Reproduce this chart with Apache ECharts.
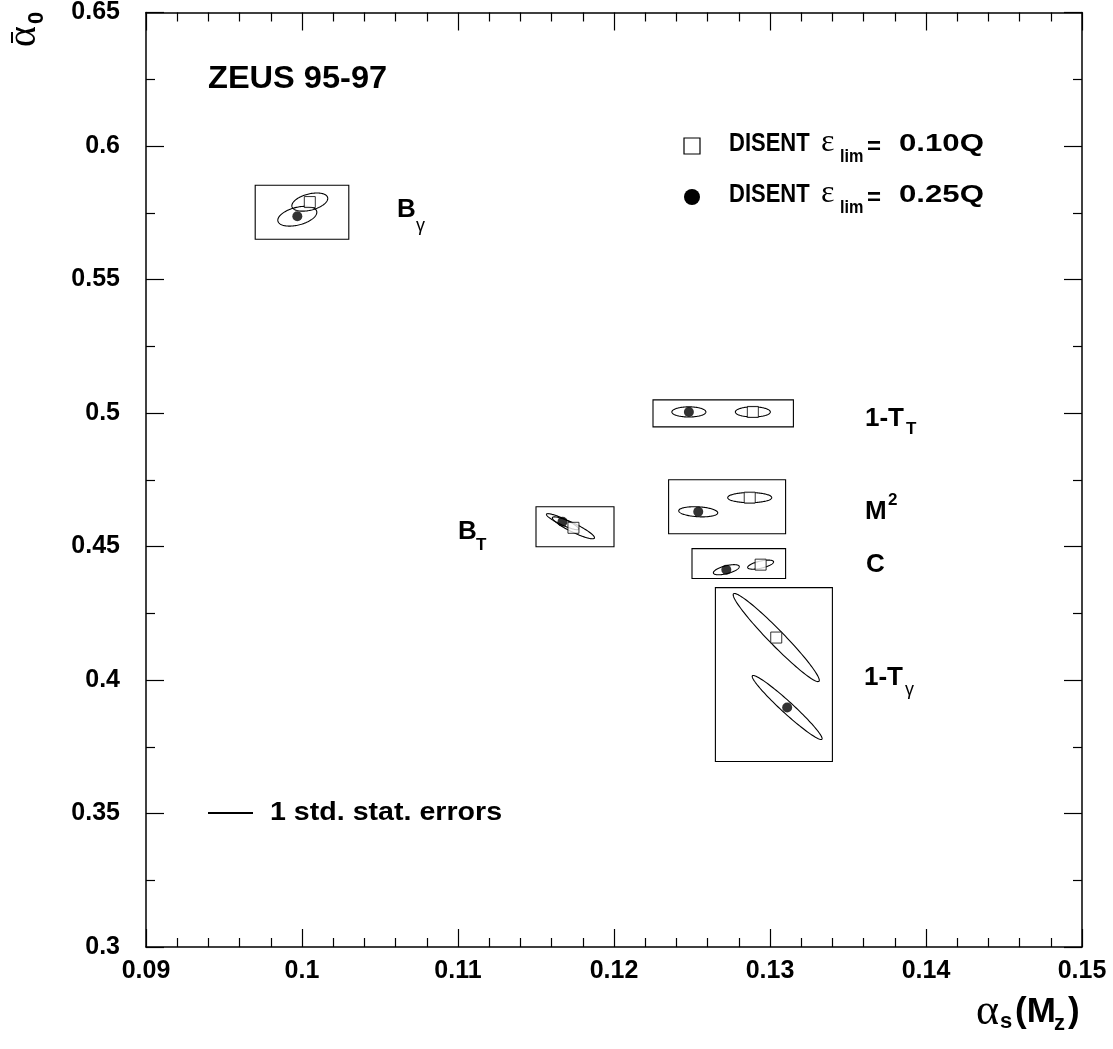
<!DOCTYPE html>
<html><head><meta charset="utf-8">
<script src="https://cdn.jsdelivr.net/npm/echarts@6/dist/echarts.min.js"></script>
<style>html,body{margin:0;padding:0;background:#fff}#c{width:1113px;height:1049px}</style>
</head><body><div id="c"></div>
<script>
// ---- data ----
const observables = ['Bγ', '1-T_T', 'M²', 'C', 'B_T', '1-Tγ'];
// DISENT eps_lim = 0.10Q (open squares)
const alphaS_010 = [0.1005, 0.1289, 0.1287, 0.1294, 0.1174, 0.1304];
const alpha0_010 = [0.5790, 0.5004, 0.4683, 0.4432, 0.4570, 0.4159];
const sigS_010   = [0.00115, 0.00112, 0.00141, 0.00083, 0.00135, 0.00276];
const sig0_010   = [0.0034, 0.0019, 0.0019, 0.0017, 0.0041, 0.0165];
const rho_010    = [0.4, 0.0, 0.0, 0.6, -0.9, -0.97];
// DISENT eps_lim = 0.25Q (filled circles)
const alphaS_025 = [0.0997, 0.1248, 0.1254, 0.1272, 0.1167, 0.1311];
const alpha0_025 = [0.5737, 0.5004, 0.4630, 0.4413, 0.4593, 0.3897];
const sigS_025   = [0.00125, 0.00109, 0.00125, 0.00083, 0.00103, 0.00224];
const sig0_025   = [0.0037, 0.0019, 0.0019, 0.0019, 0.0030, 0.0120];
const rho_025    = [0.4, 0.0, -0.2, 0.6, -0.9, -0.97];
// boxes around each observable
const boxSmin = [0.0970, 0.1225, 0.1235, 0.1250, 0.1150, 0.1265];
const boxSmax = [0.1030, 0.1315, 0.1310, 0.1310, 0.1200, 0.1340];
const box0min = [0.5651, 0.4948, 0.4548, 0.4380, 0.4499, 0.3695];
const box0max = [0.5853, 0.5049, 0.4750, 0.4492, 0.4649, 0.4346];
// ticks
const xTickLabels = ['0.09', '0.1', '0.11', '0.12', '0.13', '0.14', '0.15'];
const yTickLabels = ['0.3', '0.35', '0.4', '0.45', '0.5', '0.55', '0.6', '0.65'];

// ---- build ----
const SANS = '"Liberation Sans", Arial, sans-serif';
const SERIF = '"Liberation Serif", "Times New Roman", serif';
const boxData = boxSmin.map((v, i) => [v, box0min[i], boxSmax[i], box0max[i]]);
const ell010 = alphaS_010.map((v, i) => [v, alpha0_010[i], sigS_010[i], sig0_010[i], rho_010[i]]);
const ell025 = alphaS_025.map((v, i) => [v, alpha0_025[i], sigS_025[i], sig0_025[i], rho_025[i]]);
const pts010 = alphaS_010.map((v, i) => [v, alpha0_010[i]]);
const pts025 = alphaS_025.map((v, i) => [v, alpha0_025[i]]);

function ellipseItem(params, api) {
  const cx = api.value(0), cy = api.value(1), sx = api.value(2), sy = api.value(3), r = api.value(4);
  const q = Math.sqrt(1 - r * r);
  const pts = [];
  for (let k = 0; k < 120; k++) {
    const t = 2 * Math.PI * k / 120;
    pts.push(api.coord([cx + sx * Math.cos(t), cy + sy * (r * Math.cos(t) + q * Math.sin(t))]));
  }
  return { type: 'polygon', shape: { points: pts }, style: { fill: 'none', stroke: '#000', lineWidth: 1.1 } };
}
function boxItem(params, api) {
  const a = api.coord([api.value(0), api.value(3)]);
  const b = api.coord([api.value(2), api.value(1)]);
  return { type: 'rect', shape: { x: a[0], y: a[1], width: b[0] - a[0], height: b[1] - a[1] },
    style: { fill: 'none', stroke: '#000', lineWidth: 1.1 } };
}
function txt(x, y, s, size, bold, family, sx) {
  return { type: 'text', x: x, y: y, z: 100, scaleX: sx || 1,
    style: { text: s, fill: '#000', font: (bold ? 'bold ' : '') + size + 'px ' + (family || SANS),
      textAlign: 'left', textVerticalAlign: 'middle', verticalAlign: 'middle' } };
}
function fmt(list, min, step) {
  return v => { const i = Math.round((v - min) / step); return list[i] !== undefined ? list[i] : ''; };
}

const axisCommon = {
  type: 'value',
  axisLine: { show: true, onZero: false, lineStyle: { color: '#000', width: 1.5 } },
  axisTick: { show: true, inside: true, length: 18, lineStyle: { color: '#000', width: 1.2 } },
  minorTick: { show: true, length: 9, lineStyle: { color: '#000', width: 1.2 } },
  splitLine: { show: false }, minorSplitLine: { show: false }
};
const labelStyle = { color: '#000', fontFamily: SANS, fontWeight: 'bold', fontSize: 25 };

const graphics = [
  txt(208, 79, 'ZEUS 95-97', 31, true, SANS, 1.05),
  // legend
  { type: 'rect', shape: { x: 684, y: 138, width: 16, height: 16 }, style: { fill: '#fff', stroke: '#000', lineWidth: 1.2 } },
  txt(729, 144, 'DISENT', 25, true, SANS, 0.88), txt(821, 143, 'ε', 32, false, SERIF),
  txt(840, 157, 'lim', 18, true, SANS, 0.9), txt(867, 147, '=', 24, true), txt(899, 144, '0.10Q', 24, true, SANS, 1.3),
  { type: 'circle', shape: { cx: 692, cy: 197, r: 8 }, style: { fill: '#000' } },
  txt(729, 195, 'DISENT', 25, true, SANS, 0.88), txt(821, 194, 'ε', 32, false, SERIF),
  txt(840, 208, 'lim', 18, true, SANS, 0.9), txt(867, 198, '=', 24, true), txt(899, 195, '0.25Q', 24, true, SANS, 1.3),
  // observable labels
  txt(397, 210, 'B', 26, true), txt(416, 226, 'γ', 18, false),
  txt(865, 419, '1-T', 26, true), txt(906, 429, 'T', 17, true),
  txt(865, 512, 'M', 26, true), txt(888, 500, '2', 17, true),
  txt(866, 565, 'C', 26, true),
  txt(864, 678, '1-T', 26, true), txt(905, 690, 'γ', 18, false),
  txt(458, 532, 'B', 26, true), txt(476, 545, 'T', 17, true),
  // stat errors note
  { type: 'line', shape: { x1: 208, y1: 813, x2: 253, y2: 813 }, style: { stroke: '#000', lineWidth: 2 } },
  txt(270, 813, '1 std. stat. errors', 26, true, SANS, 1.1),
  // x title
  txt(976, 1012, 'α', 44, false, SERIF), txt(1000, 1022, 's', 22, true),
  txt(1015, 1012, '(M', 35, true), txt(1054, 1024, 'z', 22, true), txt(1068, 1012, ')', 35, true),
  // y title (rotated)
  { type: 'group', x: 24, y: 47, rotation: Math.PI / 2, children: [
    txt(0, 0, 'α', 40, false, SERIF),
    { type: 'line', shape: { x1: 4, y1: -12, x2: 15, y2: -12 }, style: { stroke: '#000', lineWidth: 2 } },
    txt(23, 13, '0', 22, true)
  ] }
];

const option = {
  backgroundColor: '#fff',
  animation: false,
  grid: { left: 146, right: 31, top: 11, bottom: 102, containLabel: false },
  xAxis: [
    Object.assign({}, axisCommon, { min: 0.09, max: 0.15, interval: 0.01, position: 'bottom',
      minorTick: Object.assign({}, axisCommon.minorTick, { splitNumber: 5 }),
      axisLabel: Object.assign({}, labelStyle, { margin: 12, formatter: fmt(xTickLabels, 0.09, 0.01) }) }),
    Object.assign({}, axisCommon, { min: 0.09, max: 0.15, interval: 0.01, position: 'top',
      minorTick: Object.assign({}, axisCommon.minorTick, { splitNumber: 5 }),
      axisLabel: { show: false } })
  ],
  yAxis: [
    Object.assign({}, axisCommon, { min: 0.3, max: 0.65, interval: 0.05, position: 'left',
      minorTick: Object.assign({}, axisCommon.minorTick, { splitNumber: 2 }),
      axisLabel: Object.assign({}, labelStyle, { margin: 26, formatter: fmt(yTickLabels, 0.3, 0.05) }) }),
    Object.assign({}, axisCommon, { min: 0.3, max: 0.65, interval: 0.05, position: 'right',
      minorTick: Object.assign({}, axisCommon.minorTick, { splitNumber: 2 }),
      axisLabel: { show: false } })
  ],
  series: [
    { type: 'custom', name: 'boxes', renderItem: boxItem, data: boxData, encode: { x: [0, 2], y: [1, 3] }, silent: true },
    { type: 'custom', name: 'ell010', renderItem: ellipseItem, data: ell010, encode: { x: 0, y: 1 }, silent: true },
    { type: 'custom', name: 'ell025', renderItem: ellipseItem, data: ell025, encode: { x: 0, y: 1 }, silent: true },
    { type: 'scatter', name: 'DISENT 0.10Q', data: pts010, symbol: 'rect', symbolSize: 11,
      itemStyle: { color: '#fff', borderColor: '#000', borderWidth: 1 }, z: 5 },
    { type: 'scatter', name: 'DISENT 0.25Q', data: pts025, symbol: 'circle', symbolSize: 10,
      itemStyle: { color: '#000' }, z: 5 }
  ],
  graphic: graphics
};
const chart = echarts.init(document.getElementById('c'), null, { renderer: 'canvas' });
chart.setOption(option);
</script></body></html>
